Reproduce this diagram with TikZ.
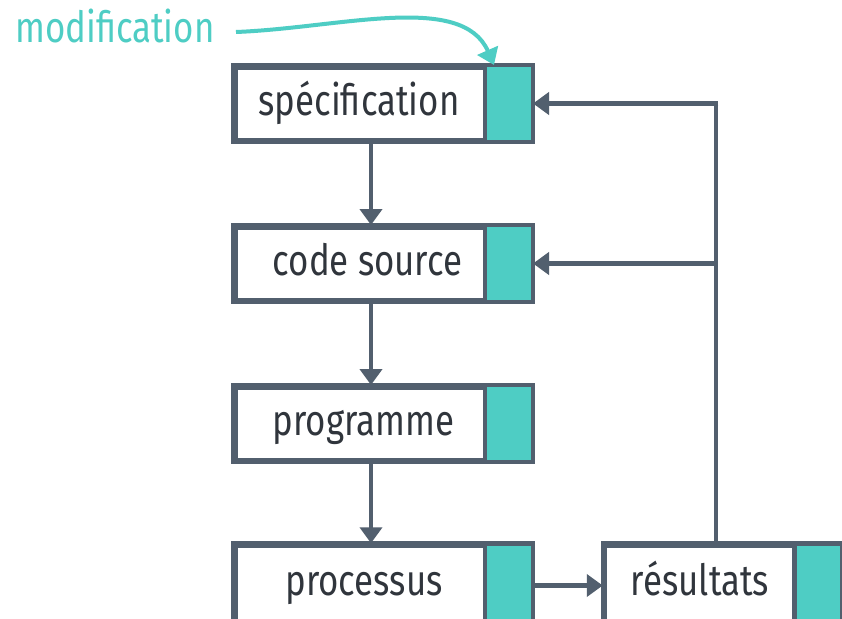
\documentclass[tikz,border=0pt]{standalone}
\usepackage{fontspec}
\setmainfont[FakeStretch=0.81]{Fira Sans}
\usetikzlibrary{arrows.meta}
\definecolor{slate}{HTML}{525F6E}
\definecolor{mint}{HTML}{4ECDC4}
\definecolor{ink}{HTML}{30353C}
\tikzset{
  stage/.style={draw=slate, line width=4.5pt, fill=white, minimum height=72.5pt, inner sep=0pt},
  label/.style={text=ink, font=\fontsize{43}{50}\selectfont, inner sep=0pt, anchor=base},
  tip/.style={-{Triangle[length=16pt,width=22pt]}},
  flow/.style={draw=slate, line width=4.5pt, tip},
  feed/.style={draw=slate, line width=4.5pt},
}
\newcommand{\tab}[1]{%
  \fill[mint] ([xshift=-48pt]#1.north east) rectangle (#1.south east);
  \draw[slate, line width=4.5pt] ([xshift=-48pt]#1.north east) -- ([xshift=-48pt]#1.south east);
  \draw[slate, line width=4.5pt] (#1.north west) rectangle (#1.south east);
}
\begin{document}
\begin{tikzpicture}[x=1pt,y=-1pt]
\useasboundingbox (0,0) rectangle (842,618);
\clip (0,0) rectangle (842,618);
\fill[white] (0,0) rectangle (842,618);

% stages of the chain
\node[stage, minimum width=295.5pt] (spec) at (383,103.5) {};
\node[stage, minimum width=295.5pt] (src)  at (383,263.5) {};
\node[stage, minimum width=295.5pt] (prog) at (383,423.5) {};
\node[stage, minimum width=295.5pt, minimum height=80pt] (proc) at (383,585.5) {};
\node[stage, minimum width=235pt, minimum height=80pt]   (res)  at (722.5,585.5) {};
\tab{spec}\tab{src}\tab{prog}\tab{proc}\tab{res}

\node[label] (tspec) at (359,115) {spécification};
\node[label] (tsrc)  at (367.5,275) {code source};
\node[label] (tprog) at (363.5,435) {programme};
\node[label] (tproc) at (364,595.5) {processus};
\node[label] (tres)  at (700,595.5) {résultats};

% forward flow
\draw[flow] (spec.south -| 371,0) -- (src.north -| 371,0);
\draw[flow] (src.south -| 371,0) -- (prog.north -| 371,0);
\draw[flow] (prog.south -| 371,0) -- (proc.north -| 371,0);
\draw[flow] (proc.east) -- (res.west);

% feedback from the results
\coordinate (up) at (716,103.5);
\coordinate (mid) at (716,263.5);
\draw[feed] (res.north -| up) -- (up);
\draw[flow] ([xshift=2.25pt]up) -- (spec.east);
\draw[flow] (mid) -- (src.east);

% modification entering the specification
\node[text=mint, font=\fontsize{43}{50}\selectfont, inner sep=0pt, anchor=base west] (mod) at (15,42) {modification};
\coordinate (modstart) at (236,32);
\coordinate (modend) at (494,65);
\draw[mint, line width=4pt, tip]
  (modstart) .. controls (340,28) and (462,-8) .. (modend);
\end{tikzpicture}
\end{document}
